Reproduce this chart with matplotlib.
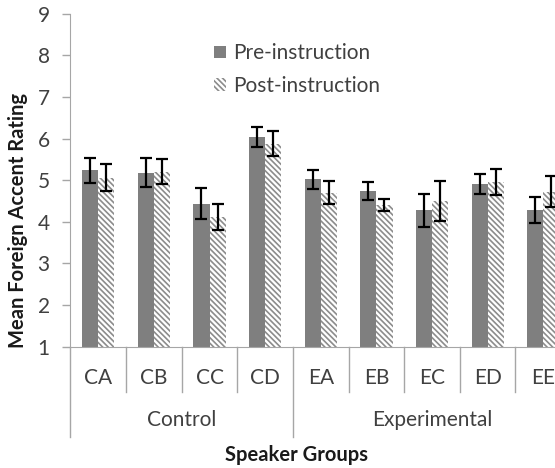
import numpy as np
import matplotlib
matplotlib.use("Agg")
import matplotlib.pyplot as plt
from matplotlib.patches import Patch

groups = ["CA", "CB", "CC", "CD", "EA", "EB", "EC", "ED", "EE"]
conditions = ["Control", "Experimental"]
pre_mean = [5.24, 5.18, 4.44, 6.03, 5.02, 4.74, 4.28, 4.90, 4.28]
pre_err = [0.30, 0.35, 0.38, 0.24, 0.22, 0.22, 0.40, 0.24, 0.31]
post_mean = [5.06, 5.20, 4.11, 5.87, 4.70, 4.40, 4.50, 4.96, 4.72]
post_err = [0.33, 0.30, 0.31, 0.30, 0.28, 0.15, 0.47, 0.31, 0.37]

plt.rcParams["font.family"] = ["Lato", "DejaVu Sans"]
plt.rcParams["hatch.linewidth"] = 1.2

GRID = "#a6a6a6"
TEXT = "#404040"
PRE = "#7f7f7f"
HATCH = "#8c8c8c"
FS = 15
HP = "\\" * 6

fig = plt.figure(figsize=(5.55, 4.68), dpi=100)
ax = fig.add_axes([0.127, 0.259, 0.902, 0.712])

x = np.arange(len(groups))
w = 0.29
ax.bar(x - w / 2, pre_mean, w, color=PRE, edgecolor=PRE, linewidth=0,
       label="Pre-instruction", zorder=2)
ax.bar(x + w / 2, post_mean, w, color="white", edgecolor=HATCH, linewidth=0,
       hatch=HP, label="Post-instruction", zorder=2)
ax.errorbar(x - w / 2, pre_mean, yerr=pre_err, fmt="none", ecolor="black",
            elinewidth=1.6, capsize=4, capthick=1.6, zorder=3)
ax.errorbar(x + w / 2, post_mean, yerr=post_err, fmt="none", ecolor="black",
            elinewidth=1.6, capsize=4, capthick=1.6, zorder=3)

ax.set_xlim(-0.5, 8.5)
ax.set_ylim(1, 9)
ax.set_yticks(range(1, 10))
ax.tick_params(axis="y", colors=GRID, labelcolor=TEXT, labelsize=FS,
               length=6, width=1, pad=9)
ax.set_xticks([])
for s in ["top", "right"]:
    ax.spines[s].set_visible(False)
ax.spines["left"].set_color(GRID)
ax.spines["bottom"].set_color(GRID)

# category labels and separators below the axis
tr = ax.get_xaxis_transform()
for i, g in enumerate(groups):
    ax.text(i, -0.094, g, transform=tr, ha="center", va="center",
            fontsize=FS, color=TEXT)
for b in range(1, len(groups)):
    low = -0.271 if b == 4 else -0.136
    ax.plot([b - 0.5, b - 0.5], [0, low], transform=tr, color=GRID,
            lw=1, clip_on=False)
ax.plot([-0.5, -0.5], [0, -0.271], transform=tr, color=GRID, lw=1,
        clip_on=False)
ax.text(1.5, -0.22, conditions[0], transform=tr, ha="center", va="center",
        fontsize=FS, color=TEXT)
ax.text(6.0, -0.22, conditions[1], transform=tr, ha="center", va="center",
        fontsize=FS, color=TEXT)

fig.text(0.535, (468 - 455) / 468, "Speaker Groups", ha="center",
         va="center", fontsize=14.5, fontweight="bold", color="#1a1a1a")
fig.text(18 / 555, 0.528, "Mean Foreign Accent Rating", rotation=90,
         ha="center", va="center", fontsize=14.5, fontweight="bold",
         color="#1a1a1a")

handles = [Patch(facecolor=PRE, edgecolor=PRE, linewidth=0),
           Patch(facecolor="white", edgecolor=HATCH, linewidth=0, hatch=HP)]
fig.legend(handles, ["Pre-instruction", "Post-instruction"],
           loc="upper left", bbox_to_anchor=(204 / 555, 1 - 33 / 468),
           frameon=False, fontsize=FS, handlelength=0.55, handleheight=0.55,
           handletextpad=0.35, labelspacing=0.6, borderpad=0,
           labelcolor=TEXT)

fig.savefig("out.png", dpi=100)
